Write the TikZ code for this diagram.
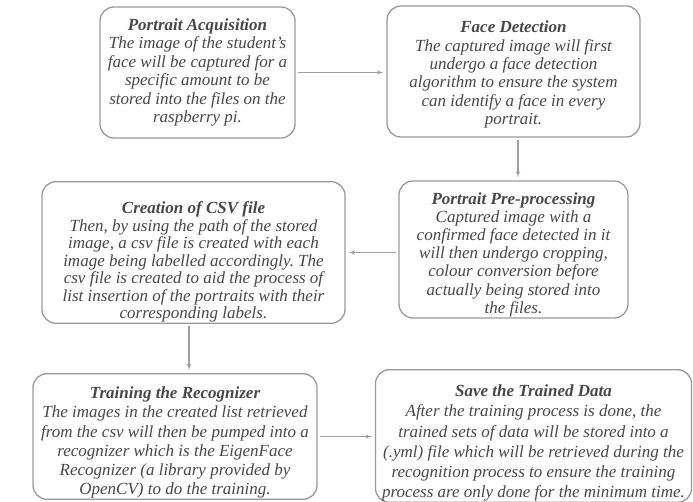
\documentclass[tikz,border=0pt]{standalone}
\usepackage{fontspec}
\setmainfont{Liberation Serif}
\usetikzlibrary{arrows}
\frenchspacing

\begin{document}
\begin{tikzpicture}[x=1pt,y=-1pt]
			\tikzset{stage/.style = {shape=rectangle,draw=gray!80,line width=1.3pt,rounded corners=14pt,align=center,
				text=black!72,font=\fontsize{17}{#1}\selectfont\itshape,inner sep=1pt},
				stage/.default=18.4}
			\tikzset{edge/.style = {->,> = latex',draw=gray!75,line width=1.1pt,shorten >=3pt,shorten <=2pt}}
			\useasboundingbox (0,0) rectangle (693,501);
			% stages
			\node[stage, minimum width=195pt, minimum height=131pt] (acq) at (197.5, 72.5)
				{\textbf{Portrait Acquisition}\\The image of the student's\\face will be captured for a\\specific amount to be\\stored into the files on the\\raspberry pi.};
			\node[stage, minimum width=253pt, minimum height=131pt] (det) at (513.5, 71.5)
				{\rule{0pt}{18pt}\textbf{Face Detection}\\The captured image will first\\undergo a face detection\\algorithm to ensure the system\\can identify a face in every\\portrait.};
			\node[stage=18.2, minimum width=229pt, minimum height=137pt] (pre) at (513.5, 249.5)
				{\rule{0pt}{22pt}\textbf{Portrait Pre-processing}\\Captured image with a\\confirmed face detected in it\\will then undergo cropping,\\colour conversion before\\actually being stored into\\the files.};
			\node[stage=17.5, minimum width=303pt, minimum height=141pt] (csv) at (193.5, 252.5)
				{\rule{0pt}{31pt}\textbf{Creation of CSV file}\\Then, by using the path of the stored\\image, a csv file is created with each\\image being labelled accordingly. The\\csv file is created to aid the process of\\list insertion of the portraits with their\\corresponding labels.};
			\node[stage=19.2, minimum width=284pt, minimum height=125pt] (train) at (175, 436.5)
				{\rule{0pt}{24pt}\textbf{Training the Recognizer}\\The images in the created list retrieved\\from the csv will then be pumped into a\\recognizer which is the EigenFace\\Recognizer (a library provided by\\OpenCV) to do the training.};
			\node[stage=20.2, minimum width=316pt, minimum height=128pt] (save) at (533.5, 436)
				{\rule{0pt}{26pt}\textbf{Save the Trained Data}\\After the training process is done, the\\trained sets of data will be stored into a\\(.yml) file which will be retrieved during the\\recognition process to ensure the training\\process are only done for the minimum time.};
			% edges
			\draw[edge] (acq.east) -- (acq.east -| det.west);
			\draw[edge] ([xshift=4.5pt]det.south) -- ([xshift=4.5pt]det.south |- pre.north);
			\draw[edge] (pre.west |- csv.east) -- (csv.east);
			\draw[edge] ([xshift=-4.5pt]csv.south) -- ([xshift=-4.5pt]csv.south |- train.north);
			\draw[edge] (train.east) -- (train.east -| save.west);
		\end{tikzpicture}
\end{document}
